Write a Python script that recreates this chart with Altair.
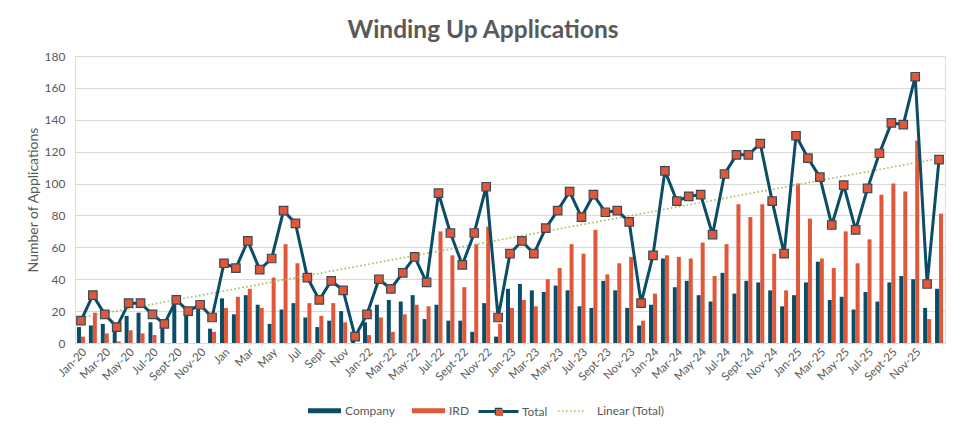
import json
import altair as alt
import pandas as pd

months = [
    "Jan-20", "Feb-20", "Mar-20", "Apr-20", "May-20", "Jun-20", "Jul-20", "Aug-20", "Sept-20", "Oct-20", "Nov-20", "Dec-20",
    "Jan", "Feb", "Mar", "Apr", "May", "Jun", "Jul", "Aug", "Sept", "Oct", "Nov", "Dec",
    "Jan-22", "Feb-22", "Mar-22", "Apr-22", "May-22", "Jun-22", "Jul-22", "Aug-22", "Sept-22", "Oct-22", "Nov-22", "Dec-22",
    "Jan-23", "Feb-23", "Mar-23", "Apr-23", "May-23", "Jun-23", "Jul-23", "Aug-23", "Sept-23", "Oct-23", "Nov-23", "Dec-23",
    "Jan-24", "Feb-24", "Mar-24", "Apr-24", "May-24", "Jun-24", "Jul-24", "Aug-24", "Sept-24", "Oct-24", "Nov-24", "Dec-24",
    "Jan-25", "Feb-25", "Mar-25", "Apr-25", "May-25", "Jun-25", "Jul-25", "Aug-25", "Sept-25", "Oct-25", "Nov-25", "Dec-25",
    "Jan-26",
]
company = [
    10, 11, 12, 9, 17, 19, 13, 12, 27, 20, 24, 9,
    28, 18, 30, 24, 12, 21, 25, 16, 10, 14, 20, 4,
    13, 24, 27, 26, 30, 15, 24, 14, 14, 7, 25, 4,
    34, 37, 33, 32, 36, 33, 23, 22, 39, 33, 22, 11,
    24, 53, 35, 39, 30, 26, 44, 31, 39, 38, 33, 23,
    30, 38, 51, 27, 29, 21, 32, 26, 38, 42, 40, 22,
    34,
]
ird = [
    4, 19, 6, 1, 8, 6, 5, 0, 0, 0, 0, 7,
    22, 29, 34, 22, 41, 62, 50, 25, 17, 25, 13, 0,
    5, 16, 7, 18, 24, 23, 70, 55, 35, 62, 73, 12,
    22, 27, 23, 40, 47, 62, 56, 71, 43, 50, 54, 14,
    31, 55, 54, 53, 63, 42, 62, 87, 79, 87, 56, 33,
    100, 78, 53, 47, 70, 50, 65, 93, 100, 95, 127, 15,
    81,
]
total = [
    14, 30, 18, 10, 25, 25, 18, 12, 27, 20, 24, 16,
    50, 47, 64, 46, 53, 83, 75, 41, 27, 39, 33, 4,
    18, 40, 34, 44, 54, 38, 94, 69, 49, 69, 98, 16,
    56, 64, 56, 72, 83, 95, 79, 93, 82, 83, 76, 25,
    55, 108, 89, 92, 93, 68, 106, 118, 118, 125, 89, 56,
    130, 116, 104, 74, 99, 71, 97, 119, 138, 137, 167, 37,
    115,
]
shown_labels = months[0:71:2]
y_ticks = [0, 20, 40, 60, 80, 100, 120, 140, 160, 180]

DARK = "#0B4D66"
ORANGE = "#E0573A"
MARKER_EDGE = "#3B4A55"
GREEN = "#9BBE55"
GRAY = "#595959"
GRID = "#D9D9D9"
FONT = "Lato"

rows = []
for i, m in enumerate(months):
    rows.append({"i": i, "month": m, "series": "Company", "value": company[i]})
    rows.append({"i": i, "month": m, "series": "IRD", "value": ird[i]})
bars_df = pd.DataFrame(rows)
tot_df = pd.DataFrame({"i": list(range(len(months))), "month": months, "value": total, "series": "Total"})

x_enc = alt.X(
    "month:N",
    scale=alt.Scale(domain=months, paddingInner=0.33, paddingOuter=0.165),
    axis=alt.Axis(
        values=shown_labels, labelAngle=-45, title=None, ticks=False, grid=False,
        domainColor=GRID, domainWidth=1, labelColor=GRAY, labelFontSize=11.5, labelFont=FONT,
        labelPadding=3,
    ),
)
y_enc = alt.Y(
    "value:Q",
    scale=alt.Scale(domain=[0, 180], nice=False),
    axis=alt.Axis(
        values=y_ticks, title="Number of Applications", domain=False, ticks=False,
        gridColor=GRID, gridWidth=1, labelColor=GRAY, labelFontSize=12, labelFont=FONT,
        labelPadding=10, titleColor=GRAY, titleFontSize=14, titleFont=FONT,
        titleFontWeight="normal", titleX=-42, titleBaseline="middle",
    ),
)

legend_text = dict(labelFont=FONT, labelFontSize=12, labelColor=GRAY, padding=0, title=None,
                   direction="horizontal", orient="none")

bar_symbol = "M-1,-0.15H1V0.15H-1Z"
total_line_symbol = "M-1,0H1M-0.11,-0.11H0.11V0.11H-0.11Z"

bars = alt.Chart(bars_df).mark_bar().encode(
    x=x_enc,
    xOffset=alt.XOffset("series:N", scale=alt.Scale(domain=["Company", "IRD"], paddingInner=0, paddingOuter=0)),
    y=y_enc,
    color=alt.Color(
        "series:N",
        scale=alt.Scale(domain=["Company", "IRD"], range=[DARK, ORANGE]),
        legend=alt.Legend(
            legendX=233, legendY=338,
            symbolType=bar_symbol, symbolSize=1089, symbolStrokeWidth=0,
            labelOffset=4, columnPadding=17, **legend_text,
        ),
    ),
)

line = alt.Chart(tot_df).mark_line(strokeWidth=3).encode(
    x=x_enc,
    y=y_enc,
    stroke=alt.Stroke(
        "series:N",
        scale=alt.Scale(domain=["Total"], range=[DARK]),
        legend=alt.Legend(
            legendX=402, legendY=334,
            symbolType=total_line_symbol, symbolSize=1600, symbolStrokeWidth=3,
            labelOffset=2, **legend_text,
        ),
    ),
)

points = (
    alt.Chart(tot_df)
    .transform_calculate(marker="'Total marker'")
    .mark_point(shape="square", filled=True, fill=ORANGE, stroke=MARKER_EDGE, strokeWidth=1.2, size=72)
    .encode(
        x=x_enc,
        y=y_enc,
        opacity=alt.Opacity(
            "marker:N",
            scale=alt.Scale(domain=["Total marker"], range=[1]),
            legend=alt.Legend(
                legendX=418.5, legendY=350.5,
                symbolType="square", symbolSize=49, symbolFillColor=ORANGE, symbolStrokeWidth=0,
                labelExpr="''", **legend_text,
            ),
        ),
    )
)

trend = (
    alt.Chart(tot_df)
    .transform_regression("i", "value")
    .transform_calculate(month=f"{json.dumps(months)}[round(datum.i)]", series="'Linear (Total)'")
    .mark_line(color=GREEN, strokeWidth=1.6)
    .encode(
        x=x_enc,
        y=y_enc,
        strokeDash=alt.StrokeDash(
            "series:N",
            scale=alt.Scale(domain=["Linear (Total)"], range=[[1.6, 2.4]]),
            legend=alt.Legend(
                legendX=482, legendY=340,
                symbolType="stroke", symbolSize=784, symbolStrokeColor=GREEN, symbolStrokeWidth=1.6,
                labelOffset=10, **legend_text,
            ),
        ),
    )
)

chart = (
    alt.layer(bars, trend, line, points)
    .properties(
        width=870,
        height=287,
        autosize=alt.AutoSizeParams(type="none"),
        padding={"left": 67, "top": 48, "right": 5, "bottom": 75},
        title=alt.Title(
            "Winding Up Applications", fontSize=24.5, fontWeight="bold", color=GRAY, font=FONT,
            anchor="middle", frame="group", offset=7, dx=-27,
        ),
    )
    .configure_view(stroke=None)
    .configure(font=FONT)
)

chart.save("out.html", embed_options={"renderer": "svg", "actions": False})
